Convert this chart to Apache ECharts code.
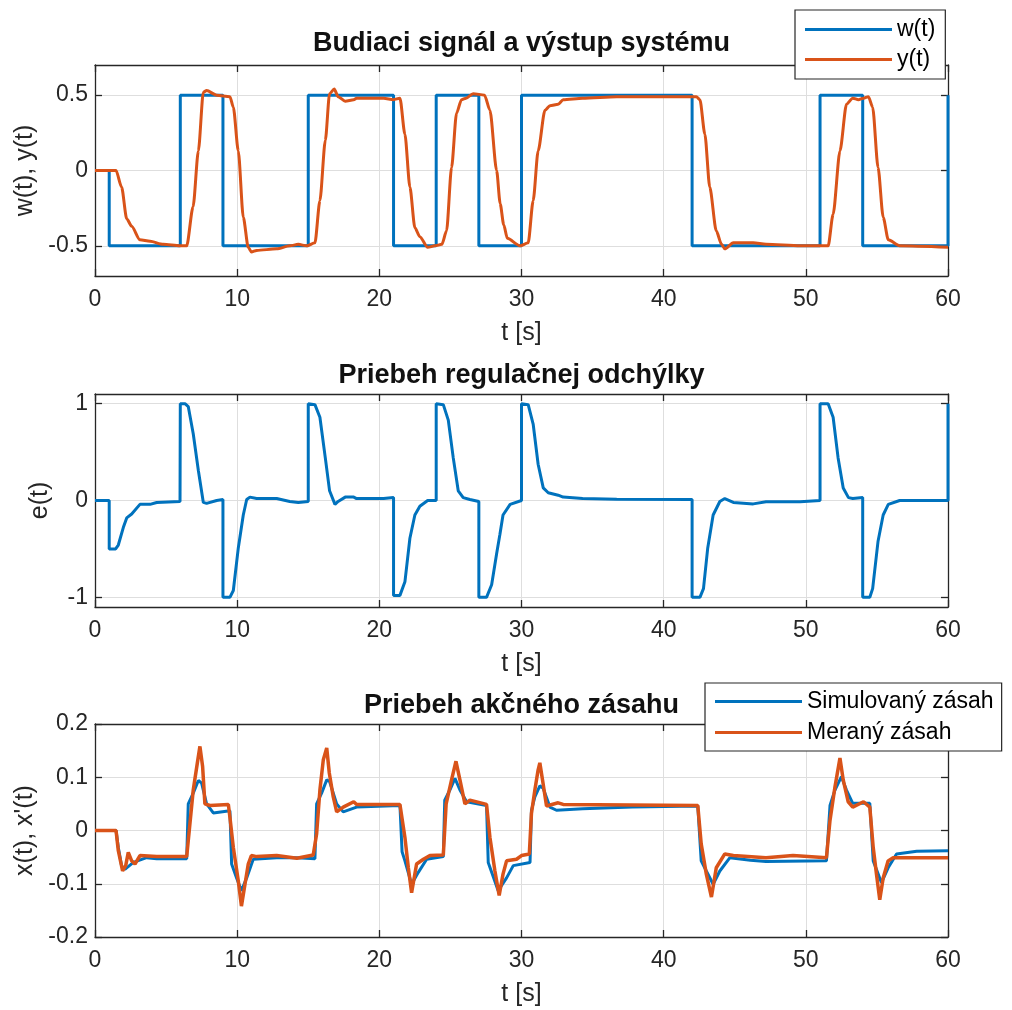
<!DOCTYPE html>
<html>
<head>
<meta charset="utf-8">
<script src="https://cdn.jsdelivr.net/npm/echarts@6/dist/echarts.min.js"></script>
<style>
  html, body { margin: 0; padding: 0; background: #fff; }
  #main { width: 1012px; height: 1010px; }
</style>
</head>
<body>
<div id="main"></div>
<script>
  const BLUE = '#0072BD'
  const ORANGE = '#D95319'
  const AXIS = '#262626'
  const FONT = '"Liberation Sans", Arial, Helvetica, sans-serif'

  const titles = ['Budiaci signál a výstup systému', 'Priebeh regulačnej odchýlky', 'Priebeh akčného zásahu']
  const yNames = ['w(t), y(t)', 'e(t)', "x(t), x'(t)"]
  const xTicks = [0, 10, 20, 30, 40, 50, 60]
  const yTicks1 = [-0.5, 0, 0.5]
  const yTicks2 = [-1, 0, 1]
  const yTicks3 = [-0.2, -0.1, 0, 0.1, 0.2]

  // budiaci signal w(t): [t, hodnota], skok na konci useku
  const wSteps = [[0, 0], [1, -0.5], [6, 0.5], [9, -0.5], [15, 0.5], [21, -0.5], [24, 0.5],
    [27, -0.5], [30, 0.5], [42, -0.5], [51, 0.5], [54, -0.5], [60, 0.5]]

  // vystup y(t)
  const ySignal = [[0, 0], [1.48, 0], [1.87, -0.11], [2.23, -0.32], [2.58, -0.37], [3.16, -0.46],
    [3.87, -0.47], [4.8, -0.49], [5.98, -0.5], [6.45, -0.5], [6.9, -0.24], [7.27, 0.13], [7.62, 0.52],
    [7.85, 0.53], [8.56, 0.5], [9.49, 0.49], [9.73, 0.42], [10.08, 0.13], [10.43, -0.31], [10.78, -0.51],
    [11.0, -0.54], [11.37, -0.53], [12.78, -0.52], [13.7, -0.5], [14.3, -0.49], [14.9, -0.5], [15.47, -0.48],
    [15.82, -0.2], [16.2, 0.2], [16.5, 0.51], [16.83, 0.54], [17.1, 0.49], [17.6, 0.46], [18.2, 0.47],
    [18.4, 0.48], [20.3, 0.48], [21.0, 0.47], [21.45, 0.48], [21.8, 0.24], [22.15, -0.11], [22.5, -0.38],
    [22.85, -0.44], [23.4, -0.51], [23.9, -0.5], [24.4, -0.49], [24.73, -0.4], [25.08, 0.02], [25.43, 0.38],
    [25.78, 0.47], [26.1, 0.48], [26.6, 0.51], [27.4, 0.5], [27.78, 0.4], [28.25, 0.0], [28.5, -0.22],
    [28.75, -0.36], [29.0, -0.45], [29.9, -0.5], [30.47, -0.48], [30.82, -0.2], [31.17, 0.13], [31.65, 0.4],
    [32.0, 0.43], [32.58, 0.44], [32.93, 0.47], [34.3, 0.48], [36.7, 0.49], [42.3, 0.49], [42.55, 0.47],
    [42.9, 0.24], [43.24, -0.11], [43.7, -0.4], [44.07, -0.49], [44.3, -0.52], [44.9, -0.48], [46.3, -0.48],
    [47.2, -0.49], [49.6, -0.5], [51.57, -0.5], [51.92, -0.29], [52.4, 0.13], [52.86, 0.44], [53.3, 0.48],
    [53.7, 0.47], [54.06, 0.48], [54.4, 0.49], [54.7, 0.42], [55.08, 0.02], [55.44, -0.31], [55.8, -0.46],
    [56.6, -0.5], [60, -0.51]]

  // regulacna odchylka e(t)
  const eSignal = [[0, 0], [1, 0], [1, -0.5], [1.45, -0.5], [1.64, -0.46], [1.99, -0.28], [2.23, -0.18],
    [2.58, -0.14], [3.16, -0.04], [3.87, -0.04], [4.34, -0.02], [5.98, -0.01], [6, 1], [6.33, 1], [6.56, 0.97],
    [6.91, 0.69], [7.27, 0.31], [7.62, -0.02], [7.85, -0.03], [8.56, 0], [9, 0.01], [9, -1], [9.49, -1],
    [9.73, -0.93], [10.08, -0.49], [10.43, -0.15], [10.67, 0.01], [10.9, 0.035], [11.37, 0.02], [12.78, 0.02],
    [13.7, -0.01], [14.3, -0.02], [15, -0.01], [15, 1], [15.47, 0.99], [15.82, 0.86], [16.2, 0.44], [16.5, 0.1],
    [16.88, -0.04], [17.1, -0.01], [17.6, 0.035], [18.2, 0.035], [18.4, 0.02], [20.3, 0.02], [21, 0.03],
    [21, -0.98], [21.45, -0.98], [21.8, -0.84], [22.15, -0.39], [22.5, -0.15], [22.85, -0.06], [23.4, 0],
    [24, 0], [24, 1], [24.5, 0.99], [24.85, 0.83], [25.2, 0.44], [25.55, 0.1], [25.9, 0.03], [26.37, 0.01],
    [27, -0.01], [27, -1], [27.54, -1], [27.9, -0.87], [28.25, -0.55], [28.48, -0.35], [28.7, -0.15],
    [29.2, -0.04], [30, 0], [30, 1], [30.47, 0.99], [30.82, 0.79], [31.17, 0.375], [31.53, 0.13], [31.88, 0.08],
    [32.58, 0.055], [32.93, 0.035], [34.3, 0.02], [36.7, 0.014], [42, 0.01], [42, -1], [42.55, -1], [42.8, -0.91],
    [43.1, -0.49], [43.48, -0.15], [43.95, -0.01], [44.3, 0.02], [44.9, -0.02], [46.3, -0.035], [47.2, -0.014],
    [49.6, -0.014], [51, 0], [51, 1], [51.57, 1], [51.92, 0.86], [52.27, 0.44], [52.63, 0.13], [53, 0.03],
    [53.3, 0.02], [54, 0.03], [54, -1], [54.5, -1], [54.7, -0.91], [55.08, -0.42], [55.44, -0.15], [55.8, -0.04],
    [56.6, 0], [60, 0], [60, 1]]

  // simulovany akcny zasah x(t)
  const xSim = [[0, 0], [1.48, 0], [1.64, -0.032], [1.87, -0.066], [2.1, -0.073], [2.7, -0.06], [3.63, -0.051],
    [4.34, -0.053], [6.45, -0.053], [6.56, 0.05], [6.91, 0.07], [7.27, 0.094], [7.5, 0.089], [7.85, 0.05],
    [8.32, 0.033], [9.49, 0.037], [9.61, -0.063], [9.96, -0.089], [10.3, -0.113], [10.67, -0.089],
    [11.13, -0.054], [12.78, -0.051], [14.2, -0.051], [15.47, -0.053], [15.59, 0.05], [15.94, 0.07],
    [16.3, 0.095], [16.5, 0.092], [17.0, 0.05], [17.46, 0.035], [18.4, 0.044], [21.45, 0.047], [21.6, -0.04],
    [21.8, -0.057], [22.27, -0.101], [22.73, -0.079], [23.33, -0.054], [24.5, -0.049], [24.6, 0.057],
    [24.96, 0.076], [25.32, 0.098], [25.67, 0.076], [26.14, 0.054], [27.54, 0.047], [27.66, -0.06],
    [28.36, -0.113], [28.95, -0.089], [29.42, -0.066], [30.6, -0.06], [30.7, 0.038], [30.94, 0.063],
    [31.29, 0.084], [31.53, 0.079], [32.0, 0.044], [32.46, 0.038], [34.3, 0.041], [37.8, 0.044], [42.4, 0.046],
    [42.64, -0.057], [43.0, -0.076], [43.48, -0.101], [43.95, -0.076], [44.66, -0.051], [46.1, -0.056],
    [47.2, -0.058], [51.45, -0.057], [51.7, 0.047], [52.05, 0.076], [52.5, 0.101], [52.86, 0.076], [53.3, 0.051],
    [54.5, 0.051], [54.74, -0.057], [55.32, -0.098], [55.79, -0.07], [56.38, -0.044], [57.8, -0.039], [60, -0.038]]

  // merany akcny zasah x'(t)
  const xMeas = [[0, 0], [1.48, 0], [1.64, -0.038], [1.94, -0.076], [2.16, -0.066], [2.34, -0.041],
    [2.58, -0.057], [2.81, -0.063], [3.16, -0.047], [4.34, -0.049], [6.45, -0.049], [6.63, 0], [6.91, 0.076],
    [7.2, 0.127], [7.38, 0.158], [7.57, 0.12], [7.73, 0.05], [8.09, 0.047], [9.38, 0.049], [9.49, 0.025],
    [9.73, -0.032], [10.08, -0.095], [10.3, -0.142], [10.55, -0.101], [10.78, -0.063], [11.0, -0.047],
    [11.37, -0.049], [12.78, -0.047], [14.2, -0.052], [15.35, -0.046], [15.59, -0.006], [15.82, 0.076],
    [16.06, 0.133], [16.3, 0.155], [16.48, 0.108], [16.76, 0.063], [17.0, 0.035], [17.46, 0.044], [18.2, 0.054],
    [18.4, 0.049], [21.45, 0.049], [21.8, -0.013], [22.04, -0.07], [22.27, -0.117], [22.62, -0.063],
    [23.1, -0.054], [23.56, -0.047], [24.5, -0.046], [24.7, 0.05], [25.08, 0.095], [25.39, 0.13], [25.67, 0.095],
    [26.02, 0.05], [26.37, 0.057], [27.54, 0.049], [27.78, -0.013], [28.13, -0.076], [28.43, -0.122],
    [28.7, -0.082], [28.95, -0.057], [29.65, -0.054], [30.0, -0.047], [30.55, -0.044], [30.7, 0.032],
    [30.94, 0.076], [31.17, 0.114], [31.29, 0.127], [31.48, 0.095], [31.76, 0.046], [32.58, 0.052],
    [32.93, 0.049], [42.4, 0.047], [42.64, -0.025], [43.0, -0.082], [43.36, -0.125], [43.7, -0.07],
    [44.3, -0.044], [44.9, -0.047], [47.2, -0.051], [49.1, -0.047], [51.45, -0.051], [51.7, 0.019],
    [52.05, 0.082], [52.4, 0.136], [52.63, 0.095], [52.98, 0.054], [53.3, 0.044], [54.06, 0.054], [54.5, 0.044],
    [54.74, -0.032], [54.97, -0.082], [55.2, -0.13], [55.44, -0.089], [55.79, -0.057], [56.14, -0.051],
    [60, -0.051]]

  const grids = [
    { left: 95, right: 64, top: 65, height: 211 },
    { left: 95, right: 64, top: 394, height: 213 },
    { left: 95, right: 64, top: 724, height: 213 }
  ]
  const yRanges = [[-0.7, 0.7, yTicks1], [-1.1, 1.1, yTicks2], [-0.2, 0.2, yTicks3]]
  const yNameGaps = [52, 42, 57]
  const titleTops = [30, 362, 692]

  const lineAxis = { show: true, onZero: false, lineStyle: { color: AXIS, width: 1.3 } }
  const tickIn = { show: true, inside: true, length: 7, lineStyle: { color: AXIS, width: 1.3 } }
  const grid = { show: true, lineStyle: { color: '#dedede', width: 1 } }

  const xAxes = []
  const yAxes = []
  grids.forEach((g, i) => {
    xAxes.push({
      type: 'value', gridIndex: i, position: 'bottom', min: 0, max: 60,
      axisLine: lineAxis,
      axisTick: Object.assign({ customValues: xTicks }, tickIn),
      axisLabel: { customValues: xTicks, margin: 12, color: AXIS, fontSize: 23, fontFamily: FONT },
      splitLine: grid,
      name: 't [s]', nameLocation: 'middle', nameGap: 45,
      nameTextStyle: { color: AXIS, fontSize: 25, fontFamily: FONT }
    })
    xAxes.push({
      type: 'value', gridIndex: i, position: 'top', min: 0, max: 60,
      axisLine: lineAxis,
      axisTick: Object.assign({ customValues: xTicks }, tickIn),
      axisLabel: { show: false },
      splitLine: { show: false }
    })
    const r = yRanges[i]
    yAxes.push({
      type: 'value', gridIndex: i, position: 'left', min: r[0], max: r[1],
      axisLine: lineAxis,
      axisTick: Object.assign({ customValues: r[2] }, tickIn),
      axisLabel: { customValues: r[2], margin: 7, color: AXIS, fontSize: 23, fontFamily: FONT },
      splitLine: grid,
      name: yNames[i], nameLocation: 'middle', nameGap: yNameGaps[i], nameRotate: 90,
      nameTextStyle: { color: AXIS, fontSize: 25, fontFamily: FONT }
    })
    yAxes.push({
      type: 'value', gridIndex: i, position: 'right', min: r[0], max: r[1],
      axisLine: lineAxis,
      axisTick: Object.assign({ customValues: r[2] }, tickIn),
      axisLabel: { show: false },
      splitLine: { show: false }
    })
  })

  const legendBase = {
    orient: 'vertical', icon: 'rect', itemWidth: 87, itemHeight: 3, itemGap: 4,
    backgroundColor: '#fff', borderColor: AXIS, borderWidth: 1.2, borderRadius: 0,
    selectedMode: false,
    textStyle: { color: '#000', fontSize: 23, fontFamily: FONT, lineHeight: 26 }
  }

  const lineSeries = (name, data, color, xi, width, extra) => Object.assign({
    name: name, type: 'line', xAxisIndex: xi, yAxisIndex: xi, data: data,
    showSymbol: false, symbol: 'none', clip: true,
    lineStyle: { color: color, width: width }, itemStyle: { color: color }
  }, extra || {})

  const chart = echarts.init(document.getElementById('main'), null, { renderer: 'canvas' })
  chart.setOption({
    backgroundColor: '#fff',
    animation: false,
    title: titles.map((t, i) => ({
      text: t, left: 521.5, top: titleTops[i], textAlign: 'center', padding: 0,
      textStyle: { color: '#111', fontSize: 27, fontWeight: 'bold', fontFamily: FONT }
    })),
    legend: [
      Object.assign({}, legendBase, { data: ['w(t)', 'y(t)'], left: 795, top: 10, padding: [6.5, 10, 6.5, 10] }),
      Object.assign({}, legendBase, { data: ['Simulovaný zásah', 'Meraný zásah'], itemGap: 5, left: 705, top: 683, padding: [5.5, 8, 5.5, 10] })
    ],
    grid: grids,
    xAxis: xAxes,
    yAxis: yAxes,
    series: [
      lineSeries('w(t)', wSteps, BLUE, 0, 3, { step: 'end' }),
      lineSeries('y(t)', ySignal, ORANGE, 0, 3, { smooth: 0.25, smoothMonotone: 'x' }),
      lineSeries('e(t)', eSignal, BLUE, 2, 3),
      lineSeries('Simulovaný zásah', xSim, BLUE, 4, 3),
      lineSeries('Meraný zásah', xMeas, ORANGE, 4, 3.5)
    ]
  })
</script>
</body>
</html>
